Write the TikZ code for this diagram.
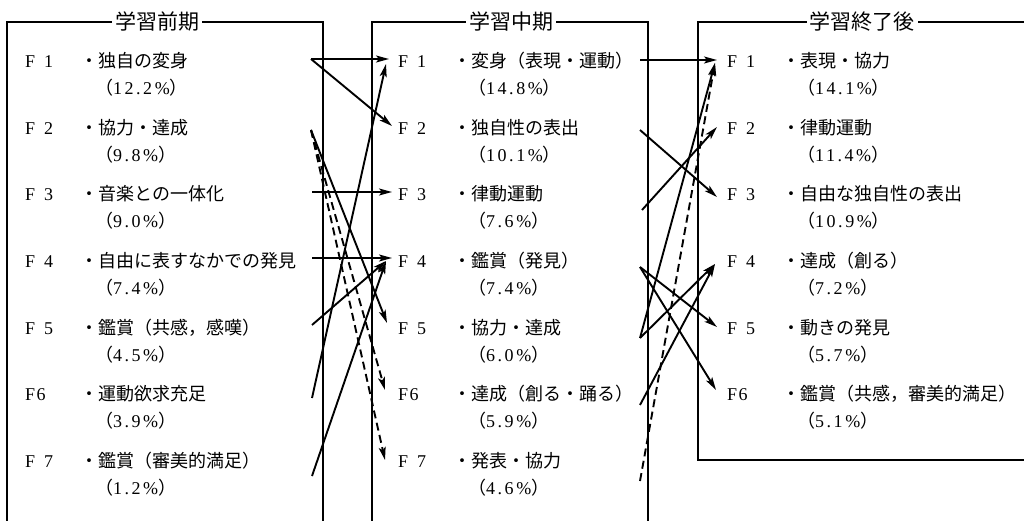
\documentclass[tikz,border=0pt]{standalone}
\usepackage{fontspec}
\setmainfont{Liberation Serif}
\newfontfamily\jp{Noto Sans CJK JP}
\newfontfamily\numf[LetterSpace=14]{Liberation Serif}
\usetikzlibrary{arrows.meta}
\newcommand\pctxt[1]{{\jp （}{\numf #1\%}{\jp ）}}
\newcommand\Fsp[1]{F\hspace{9pt}#1}
\newcommand\Fns[1]{F\hspace{1.5pt}#1}
% name, xF, baseline y, F label, item text, percent
\newcommand\rowent[6]{%
  \node[flab] (#1) at (#2,#3) {#4};
  \node[itm] (#1t) at (#2+55,#3) {#5};
  \node[flab] (#1p) at (#2+70,#3+27) {\pctxt{#6}};
}
\begin{document}
\begin{tikzpicture}[x=1pt,y=-1pt,
  frame/.style={line width=1.1pt, black},
  ttl/.style={fill=white, inner xsep=3pt, inner ysep=2pt, anchor=base, font=\fontsize{21}{24}\selectfont\jp},
  flab/.style={anchor=base west, inner sep=0pt, font=\fontsize{18}{20}\selectfont},
  itm/.style={anchor=base west, inner sep=0pt, font=\fontsize{18}{20}\selectfont\jp},
  conn/.style={line width=1.9pt, -{Stealth[length=13pt,width=7pt,inset=3pt]}},
  dconn/.style={conn, dash pattern=on 8pt off 4.5pt}]
\useasboundingbox (0,0) rectangle (1024,521);
\fill[white] (0,0) rectangle (1024,521);

% frames
\draw[frame] (7,521) -- (7,22) -- (323,22) -- (323,521);
\draw[frame] (372,521) -- (372,22) -- (648,22) -- (648,521);
\draw[frame] (1024,22) -- (698,22) -- (698,460) -- (1024,460);

% titles
\node[ttl] (t1) at (157,30) {学習前期};
\node[ttl] (t2) at (511,30) {学習中期};
\node[ttl] (t3) at (862,30) {学習終了後};

% column 1
\rowent{a1}{25}{68}{\Fsp{1}}{・独自の変身}{12.2}
\rowent{a2}{25}{134.5}{\Fsp{2}}{・協力・達成}{9.8}
\rowent{a3}{25}{201}{\Fsp{3}}{・音楽との一体化}{9.0}
\rowent{a4}{25}{267.5}{\Fsp{4}}{・自由に表すなかでの発見}{7.4}
\rowent{a5}{25}{334}{\Fsp{5}}{・鑑賞（共感，感嘆）}{4.5}
\rowent{a6}{25}{400.5}{\Fns{6}}{・運動欲求充足}{3.9}
\rowent{a7}{25}{467}{\Fsp{7}}{・鑑賞（審美的満足）}{1.2}

% column 2
\rowent{b1}{398}{68}{\Fsp{1}}{・変身（表現・運動）}{14.8}
\rowent{b2}{398}{134.5}{\Fsp{2}}{・独自性の表出}{10.1}
\rowent{b3}{398}{201}{\Fsp{3}}{・律動運動}{7.6}
\rowent{b4}{398}{267.5}{\Fsp{4}}{・鑑賞（発見）}{7.4}
\rowent{b5}{398}{334}{\Fsp{5}}{・協力・達成}{6.0}
\rowent{b6}{398}{400.5}{\Fns{6}}{・達成（創る・踊る）}{5.9}
\rowent{b7}{398}{467}{\Fsp{7}}{・発表・協力}{4.6}

% column 3
\rowent{c1}{727}{68}{\Fsp{1}}{・表現・協力}{14.1}
\rowent{c2}{727}{134.5}{\Fsp{2}}{・律動運動}{11.4}
\rowent{c3}{727}{201}{\Fsp{3}}{・自由な独自性の表出}{10.9}
\rowent{c4}{727}{267.5}{\Fsp{4}}{・達成（創る）}{7.2}
\rowent{c5}{727}{334}{\Fsp{5}}{・動きの発見}{5.7}
\rowent{c6}{727}{400.5}{\Fns{6}}{・鑑賞（共感，審美的満足）}{5.1}

% ports column 1 -> 2
\coordinate (a1o) at (311,59);
\coordinate (a2o) at (311,130);
\coordinate (a3o) at (312,192);
\coordinate (a4o) at (312,258);
\coordinate (a5o) at (312,325);
\coordinate (a6o) at (312,398);
\coordinate (a7o) at (312,476);
\coordinate (b1i) at (389,59);
\coordinate (b1j) at (386,64);
\coordinate (b2i) at (392,126);
\coordinate (b3i) at (392,192);
\coordinate (b4i) at (392,258);
\coordinate (b4j) at (386,261);
\coordinate (b5i) at (387,323);
\coordinate (b6i) at (385,390);
\coordinate (b7i) at (385,460);

% ports column 2 -> 3
\coordinate (b1o) at (640,60);
\coordinate (b2o) at (640,130);
\coordinate (b3o) at (642,210);
\coordinate (b4o) at (640,267);
\coordinate (b5o) at (640,338);
\coordinate (b6o) at (640,405);
\coordinate (b7o) at (640,481);
\coordinate (c1i) at (717,60);
\coordinate (c1j) at (715,63);
\coordinate (c2i) at (717,127);
\coordinate (c3i) at (717,197);
\coordinate (c4i) at (715,264);
\coordinate (c5i) at (717,327);
\coordinate (c6i) at (716,390);

% connectors 1 -> 2
\draw[conn] (a1o) -- (b1i);
\draw[conn] (a1o) -- (b2i);
\draw[conn] (a6o) -- (b1j);
\draw[conn] (a3o) -- (b3i);
\draw[conn] (a4o) -- (b4i);
\draw[conn] (a2o) -- (b5i);
\draw[dconn] (a2o) -- (b6i);
\draw[dconn] (a2o) -- (b7i);
\draw[conn] (a5o) -- (b4j);
\draw[conn] (a7o) -- (b4j);

% connectors 2 -> 3
\draw[conn] (b1o) -- (c1i);
\draw[conn] (b2o) -- (c3i);
\draw[conn] (b3o) -- (c2i);
\draw[conn] (b5o) -- (c1j);
\draw[conn] (b5o) -- (c4i);
\draw[dconn] (b7o) -- (c1j);
\draw[conn] (b4o) -- (c5i);
\draw[conn] (b4o) -- (c6i);
\draw[conn] (b6o) -- (c4i);
\end{tikzpicture}
\end{document}
